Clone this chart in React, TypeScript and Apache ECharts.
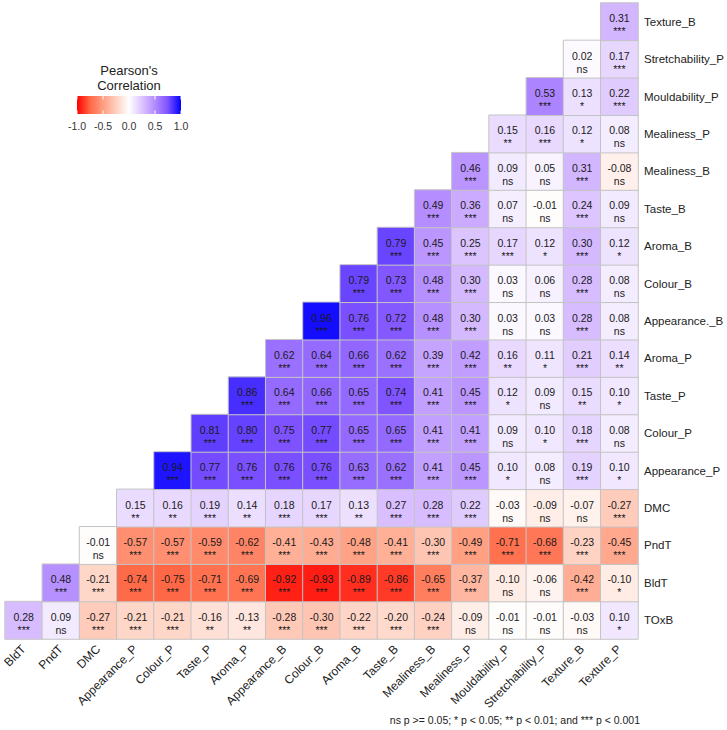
import React, { useEffect, useRef } from "react";
import * as echarts from "echarts";

const xLabels = [
  "BldT", "PndT", "DMC", "Appearance_P", "Colour_P", "Taste_P", "Aroma_P",
  "Appearance_B", "Colour_B", "Aroma_B", "Taste_B", "Mealiness_B", "Mealiness_P",
  "Mouldability_P", "Stretchability_P", "Texture_B", "Texture_P",
];
const yLabels = [
  "TOxB", "BldT", "PndT", "DMC", "Appearance_P", "Colour_P", "Taste_P", "Aroma_P",
  "Appearance._B", "Colour_B", "Aroma_B", "Taste_B", "Mealiness_B", "Mealiness_P",
  "Mouldability_P", "Stretchability_P", "Texture_B",
];

// each row r holds the correlations for columns r..16
const rowTOxB = [0.28, 0.09, -0.27, -0.21, -0.21, -0.16, -0.13, -0.28, -0.30, -0.22, -0.20, -0.24, -0.09, -0.01, -0.01, -0.03, 0.10];
const sigTOxB = ["***", "ns", "***", "***", "***", "**", "**", "***", "***", "***", "***", "***", "ns", "ns", "ns", "ns", "*"];
const rowBldT = [0.48, -0.21, -0.74, -0.75, -0.71, -0.69, -0.92, -0.93, -0.89, -0.86, -0.65, -0.37, -0.10, -0.06, -0.42, -0.10];
const sigBldT = ["***", "***", "***", "***", "***", "***", "***", "***", "***", "***", "***", "***", "ns", "ns", "***", "*"];
const rowPndT = [-0.01, -0.57, -0.57, -0.59, -0.62, -0.41, -0.43, -0.48, -0.41, -0.30, -0.49, -0.71, -0.68, -0.23, -0.45];
const sigPndT = ["ns", "***", "***", "***", "***", "***", "***", "***", "***", "***", "***", "***", "***", "***", "***"];
const rowDMC = [0.15, 0.16, 0.19, 0.14, 0.18, 0.17, 0.13, 0.27, 0.28, 0.22, -0.03, -0.09, -0.07, -0.27];
const sigDMC = ["**", "**", "***", "**", "***", "***", "**", "***", "***", "***", "ns", "ns", "ns", "***"];
const rowAppearanceP = [0.94, 0.77, 0.76, 0.76, 0.76, 0.63, 0.62, 0.41, 0.45, 0.10, 0.08, 0.19, 0.10];
const sigAppearanceP = ["***", "***", "***", "***", "***", "***", "***", "***", "***", "*", "ns", "***", "*"];
const rowColourP = [0.81, 0.80, 0.75, 0.77, 0.65, 0.65, 0.41, 0.41, 0.09, 0.10, 0.18, 0.08];
const sigColourP = ["***", "***", "***", "***", "***", "***", "***", "***", "ns", "*", "***", "ns"];
const rowTasteP = [0.86, 0.64, 0.66, 0.65, 0.74, 0.41, 0.45, 0.12, 0.09, 0.15, 0.10];
const sigTasteP = ["***", "***", "***", "***", "***", "***", "***", "*", "ns", "**", "*"];
const rowAromaP = [0.62, 0.64, 0.66, 0.62, 0.39, 0.42, 0.16, 0.11, 0.21, 0.14];
const sigAromaP = ["***", "***", "***", "***", "***", "***", "**", "*", "***", "**"];
const rowAppearanceB = [0.96, 0.76, 0.72, 0.48, 0.30, 0.03, 0.03, 0.28, 0.08];
const sigAppearanceB = ["***", "***", "***", "***", "***", "ns", "ns", "***", "ns"];
const rowColourB = [0.79, 0.73, 0.48, 0.30, 0.03, 0.06, 0.28, 0.08];
const sigColourB = ["***", "***", "***", "***", "ns", "ns", "***", "ns"];
const rowAromaB = [0.79, 0.45, 0.25, 0.17, 0.12, 0.30, 0.12];
const sigAromaB = ["***", "***", "***", "***", "*", "***", "*"];
const rowTasteB = [0.49, 0.36, 0.07, -0.01, 0.24, 0.09];
const sigTasteB = ["***", "***", "ns", "ns", "***", "ns"];
const rowMealinessB = [0.46, 0.09, 0.05, 0.31, -0.08];
const sigMealinessB = ["***", "ns", "ns", "***", "ns"];
const rowMealinessP = [0.15, 0.16, 0.12, 0.08];
const sigMealinessP = ["**", "***", "*", "ns"];
const rowMouldabilityP = [0.53, 0.13, 0.22];
const sigMouldabilityP = ["***", "*", "***"];
const rowStretchabilityP = [0.02, 0.17];
const sigStretchabilityP = ["ns", "***"];
const rowTextureB = [0.31];
const sigTextureB = ["***"];

const rows = [
  rowTOxB, rowBldT, rowPndT, rowDMC, rowAppearanceP, rowColourP, rowTasteP, rowAromaP,
  rowAppearanceB, rowColourB, rowAromaB, rowTasteB, rowMealinessB, rowMealinessP,
  rowMouldabilityP, rowStretchabilityP, rowTextureB,
];
const sigs = [
  sigTOxB, sigBldT, sigPndT, sigDMC, sigAppearanceP, sigColourP, sigTasteP, sigAromaP,
  sigAppearanceB, sigColourB, sigAromaB, sigTasteB, sigMealinessB, sigMealinessP,
  sigMouldabilityP, sigStretchabilityP, sigTextureB,
];

const legendTicks = [-1.0, -0.5, 0.0, 0.5, 1.0];
const footnote = "ns p >= 0.05; * p < 0.05; ** p < 0.01; and *** p < 0.001";

const scaleColors = [
  "#FF0000", "#FF6846", "#FF9E81", "#FFCFBF", "#FFFFFF",
  "#DCC4FF", "#B38BFF", "#7E52FF", "#0000FF",
];

const FONT = "'Liberation Sans', Arial, sans-serif";

export default function App() {
  const ref = useRef<HTMLDivElement>(null);
  useEffect(() => {
    if (!ref.current) return;
    const chart = echarts.init(ref.current, null, { renderer: "svg" });
    const data: any[] = [];
    rows.forEach((row, r) => {
      row.forEach((v, k) => {
        data.push([r + k, r, v, sigs[r][k]]);
      });
    });

    // legend geometry
    const barX = 77, barY = 96, barW = 104, barH = 18;
    const graphics: any[] = [
      {
        type: "text",
        style: {
          text: "Pearson's\nCorrelation",
          x: barX + barW / 2, y: 78, align: "center", verticalAlign: "middle",
          fontSize: 13, lineHeight: 14.5, fontFamily: FONT, fill: "#222",
        },
      },
      {
        type: "rect",
        shape: { x: barX, y: barY, width: barW, height: barH },
        style: {
          fill: new echarts.graphic.LinearGradient(0, 0, 1, 0,
            scaleColors.map((c, i) => ({ offset: i / (scaleColors.length - 1), color: c }))),
        },
      },
    ];
    legendTicks.forEach((t) => {
      const px = barX + ((t + 1) / 2) * barW;
      graphics.push({
        type: "line",
        shape: { x1: px, y1: barY, x2: px, y2: barY + 3.5 },
        style: { stroke: "#fff", lineWidth: 1 },
      });
      graphics.push({
        type: "line",
        shape: { x1: px, y1: barY + barH - 3.5, x2: px, y2: barY + barH },
        style: { stroke: "#fff", lineWidth: 1 },
      });
      graphics.push({
        type: "text",
        style: {
          text: t.toFixed(1), x: px, y: 126, align: "center", verticalAlign: "middle",
          fontSize: 10.5, fontFamily: FONT, fill: "#333",
        },
      });
    });
    graphics.push({
      type: "text",
      style: {
        text: footnote, x: 640, y: 720, align: "right", verticalAlign: "middle",
        fontSize: 10.5, fontFamily: FONT, fill: "#222",
      },
    });

    chart.setOption({
      animation: false,
      grid: { left: 2, top: 3, width: 636, height: 636, containLabel: false },
      xAxis: {
        type: "category",
        data: xLabels,
        axisLine: { show: false },
        axisTick: { show: false },
        splitLine: { show: false },
        axisLabel: {
          rotate: 45, interval: 0, margin: 8,
          fontSize: 12, fontFamily: FONT, color: "#222",
        },
      },
      yAxis: {
        type: "category",
        data: yLabels,
        position: "right",
        axisLine: { show: false },
        axisTick: { show: false },
        splitLine: { show: false },
        axisLabel: {
          interval: 0, margin: 6,
          fontSize: 11.5, fontFamily: FONT, color: "#222",
        },
      },
      visualMap: {
        show: false, type: "continuous", min: -1, max: 1, dimension: 2,
        inRange: { color: scaleColors },
      },
      graphic: graphics,
      series: [
        {
          type: "heatmap",
          data,
          itemStyle: { borderColor: "#C4C4C4", borderWidth: 1 },
          emphasis: { disabled: true },
          label: {
            show: true,
            offset: [0, 3],
            formatter: (p: any) => `{v|${p.data[2].toFixed(2)}}\n{s|${p.data[3]}}`,
            rich: {
              v: { fontSize: 10.5, lineHeight: 13, fontFamily: FONT, color: "#1a1a1a" },
              s: { fontSize: 10.5, lineHeight: 13, fontFamily: FONT, color: "#1a1a1a" },
            },
          },
        },
      ],
    });
    return () => chart.dispose();
  }, []);
  return (
    <div
      ref={ref}
      style={{ position: "fixed", left: 0, top: 0, width: 727, height: 730, background: "#fff" }}
    />
  );
}
